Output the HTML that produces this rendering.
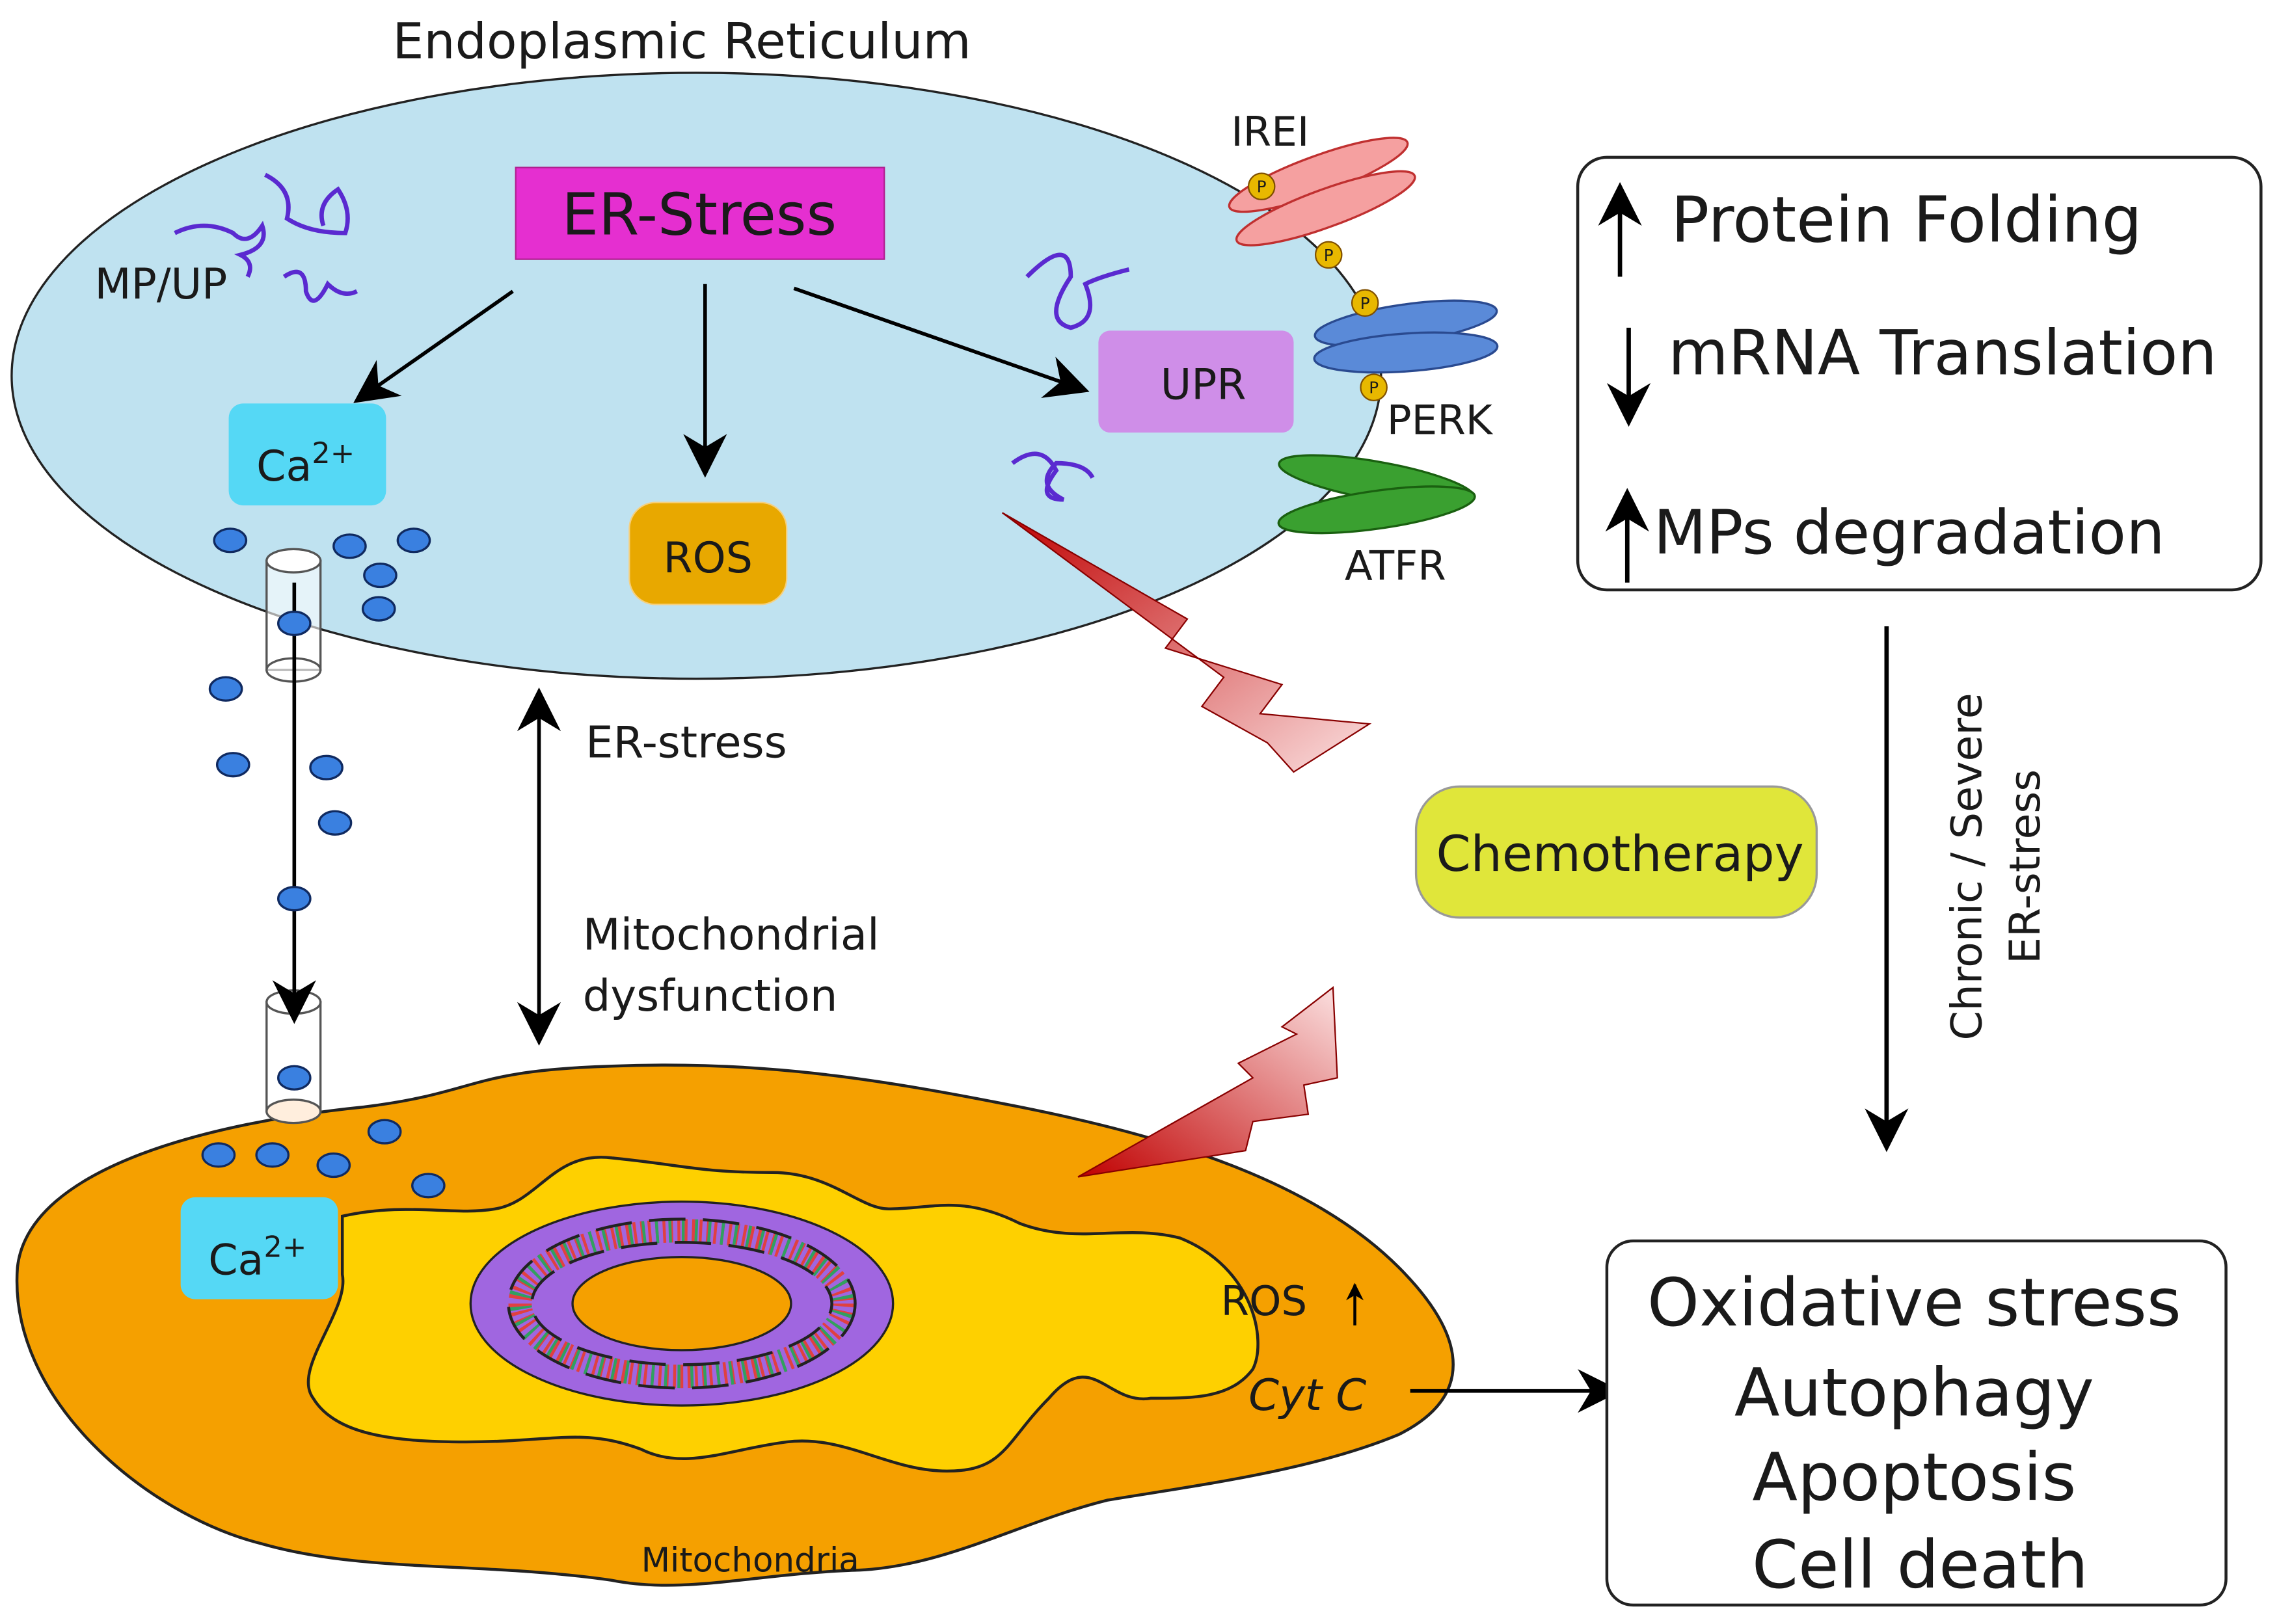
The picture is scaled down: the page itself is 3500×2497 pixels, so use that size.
<!DOCTYPE html>
<html><head><meta charset="utf-8"><style>html,body{margin:0;padding:0;background:#fff}svg{display:block}text{font-family:"DejaVu Sans","Liberation Sans",sans-serif;fill:#1a1a1a}</style></head>
<body>
<svg width="3500" height="2497" viewBox="0 0 1563 1115" preserveAspectRatio="none" xmlns="http://www.w3.org/2000/svg">
<defs>
<marker id="ah" viewBox="0 0 20 20" refX="18" refY="10" markerWidth="12" markerHeight="12" markerUnits="userSpaceOnUse" orient="auto"><path d="M0,0 L20,10 L0,20 L6,10 Z" fill="#000"/></marker>
<marker id="ahb" viewBox="0 0 20 20" refX="18" refY="10" markerWidth="30" markerHeight="30" markerUnits="userSpaceOnUse" orient="auto-start-reverse"><path d="M0,0 L20,10 L0,20 L6,10 Z" fill="#000"/></marker>
<linearGradient id="bolt" x1="0" y1="0" x2="1" y2="1"><stop offset="0" stop-color="#c00000"/><stop offset="1" stop-color="#fbe0e0"/></linearGradient>
<linearGradient id="bolt2" x1="0" y1="1" x2="1" y2="0"><stop offset="0" stop-color="#c00000"/><stop offset="1" stop-color="#fbe0e0"/></linearGradient>
</defs>
<text x="468" y="40" font-size="34" text-anchor="middle">Endoplasmic Reticulum</text>
<ellipse cx="478" cy="258" rx="470" ry="208" fill="#bfe2f0" stroke="#222" stroke-width="1.5"/>
<rect x="354" y="115" width="253" height="63" fill="#e52fd0" stroke="#b0208f"/>
<text x="480" y="161" font-size="40" text-anchor="middle">ER-Stress</text>
<text x="65" y="205" font-size="29">MP/UP</text>
<g fill="none" stroke="#5a2ad0" stroke-width="3">
<path d="M120,160 q20,-10 40,0 q10,10 20,-5 q5,15 -15,20 q10,5 5,15"/>
<path d="M182,120 q20,10 15,30 q15,10 40,10 q5,-15 -5,-30 q-15,10 -10,25"/>
<path d="M195,190 q15,-10 15,10 q5,15 15,-5 q10,10 20,5"/>
<path d="M705,190 q30,-30 30,0 q-20,30 0,35 q20,-5 10,-30 q10,-5 30,-10"/>
<path d="M695,318 q20,-15 30,5 q-15,20 5,20 q-20,-10 -5,-25 q20,0 25,10"/>
</g>
<rect x="157" y="277" width="108" height="70" rx="10" fill="#55d8f5"/>
<text x="176" y="330" font-size="29">Ca<tspan font-size="20" dy="-12">2+</tspan></text>
<rect x="432" y="345" width="108" height="70" rx="18" fill="#e8a800" stroke="#f5d080"/>
<text x="486" y="393" font-size="29" text-anchor="middle">ROS</text>
<rect x="754" y="227" width="134" height="70" rx="8" fill="#cf8ee8"/>
<text x="826" y="274" font-size="29" text-anchor="middle">UPR</text>
<g stroke="#000" stroke-width="2.5" marker-end="url(#ahb)">
<line x1="352" y1="200" x2="245" y2="275"/>
<line x1="484" y1="195" x2="484" y2="325"/>
<line x1="545" y1="198" x2="745" y2="268"/>
</g>
<g stroke-width="1.5">
<ellipse cx="905" cy="120" rx="65" ry="13" transform="rotate(-20 905 120)" fill="#f5a0a0" stroke="#c03030"/>
<ellipse cx="910" cy="143" rx="65" ry="13" transform="rotate(-20 910 143)" fill="#f5a0a0" stroke="#c03030"/>
<ellipse cx="965" cy="222" rx="63" ry="13" transform="rotate(-8 965 222)" fill="#5a8ad8" stroke="#2a4a90"/>
<ellipse cx="965" cy="242" rx="63" ry="13" transform="rotate(-4 965 242)" fill="#5a8ad8" stroke="#2a4a90"/>
<ellipse cx="945" cy="330" rx="68" ry="13" transform="rotate(10 945 330)" fill="#3aa030" stroke="#1a6010"/>
<ellipse cx="945" cy="350" rx="68" ry="13" transform="rotate(-8 945 350)" fill="#3aa030" stroke="#1a6010"/>
</g>
<g fill="#e8b800" stroke="#805000"><circle cx="866" cy="128" r="9"/><circle cx="912" cy="175" r="9"/><circle cx="937" cy="208" r="9"/><circle cx="943" cy="266" r="9"/></g>
<g font-size="11" text-anchor="middle"><text x="866" y="132">P</text><text x="912" y="179">P</text><text x="937" y="212">P</text><text x="943" y="270">P</text></g>
<text x="845" y="100" font-size="28">IREI</text>
<text x="952" y="298" font-size="28">PERK</text>
<text x="923" y="398" font-size="28">ATFR</text>
<path d="M688,352 L815,425 L800,445 L880,470 L865,490 L940,497 L888,530 L870,510 L825,485 L840,465 Z" fill="url(#bolt)" stroke="#800" stroke-width="1"/>
<path d="M12,870 C20,800 150,770 250,760 C330,750 320,735 420,732 C520,728 600,740 700,760 C800,780 900,810 960,870 C1010,920 1010,960 960,985 C900,1010 820,1020 760,1030 C700,1045 650,1075 590,1078 C520,1080 470,1095 420,1085 C330,1072 250,1080 180,1060 C100,1040 5,960 12,870 Z" fill="#f5a000" stroke="#222" stroke-width="2"/>
<path d="M235,835 C280,825 310,835 340,830 C370,825 380,790 420,795 C470,800 480,805 530,805 C570,805 590,830 610,830 C640,830 660,820 700,840 C740,855 770,840 810,850 C860,870 870,920 860,940 C845,960 820,960 790,960 C760,965 750,925 720,960 C690,990 690,1010 650,1010 C610,1010 580,985 540,990 C500,995 470,1010 440,995 C400,980 380,990 320,990 C270,990 230,985 215,960 C200,940 240,900 235,875 Z" fill="#fed000" stroke="#222" stroke-width="2"/>
<ellipse cx="468" cy="895" rx="145" ry="70" fill="#a066e0" stroke="#222" stroke-width="1.5"/>
<ellipse cx="468" cy="895" rx="111" ry="50" fill="none" stroke-width="16" stroke="#e04040" stroke-dasharray="2 3"/>
<ellipse cx="468" cy="895" rx="111" ry="50" fill="none" stroke-width="16" stroke="#30a060" stroke-dasharray="2 7" stroke-dashoffset="3"/>
<ellipse cx="468" cy="895" rx="119" ry="58" fill="none" stroke="#222" stroke-width="2" stroke-dasharray="25 12"/>
<ellipse cx="468" cy="895" rx="103" ry="42" fill="none" stroke="#222" stroke-width="2" stroke-dasharray="25 12" stroke-dashoffset="18"/>
<ellipse cx="468" cy="895" rx="75" ry="32" fill="#f5a000" stroke="#222" stroke-width="1.5"/>
<rect x="124" y="822" width="108" height="70" rx="10" fill="#55d8f5"/>
<text x="143" y="875" font-size="29">Ca<tspan font-size="20" dy="-12">2+</tspan></text>
<path d="M740,808 L860,740 L850,730 L890,710 L880,705 L915,678 L918,740 L895,745 L898,765 L860,770 L855,790 Z" fill="url(#bolt2)" stroke="#800" stroke-width="1"/>
<text x="838" y="903" font-size="28">ROS</text>
<line x1="930" y1="910" x2="930" y2="882" stroke="#000" stroke-width="2" marker-end="url(#ah)"/>
<text x="857" y="968" font-size="30" font-style="italic">Cyt C</text>
<line x1="968" y1="955" x2="1110" y2="955" stroke="#000" stroke-width="2.5" marker-end="url(#ahb)"/>
<text x="515" y="1079" font-size="23" text-anchor="middle">Mitochondria</text>
<g stroke="#555" stroke-width="1.5">
<rect x="183" y="385" width="37" height="75" fill="#fff" fill-opacity="0.6"/><ellipse cx="201.5" cy="385" rx="18.5" ry="8" fill="#fff"/><ellipse cx="201.5" cy="460" rx="18.5" ry="8" fill="#fff" fill-opacity="0.6"/>
<rect x="183" y="688" width="37" height="75" fill="#fff" fill-opacity="0.6"/><ellipse cx="201.5" cy="688" rx="18.5" ry="8" fill="#fff"/><ellipse cx="201.5" cy="763" rx="18.5" ry="8" fill="#fed"/>
</g>
<line x1="202" y1="400" x2="202" y2="700" stroke="#000" stroke-width="2.5" marker-end="url(#ahb)"/>
<g fill="#3a80e0" stroke="#102a60" stroke-width="1.5">
<ellipse cx="158" cy="371" rx="11" ry="8"/><ellipse cx="240" cy="375" rx="11" ry="8"/><ellipse cx="284" cy="371" rx="11" ry="8"/><ellipse cx="261" cy="395" rx="11" ry="8"/><ellipse cx="260" cy="418" rx="11" ry="8"/><ellipse cx="202" cy="428" rx="11" ry="8"/>
<ellipse cx="155" cy="473" rx="11" ry="8"/><ellipse cx="160" cy="525" rx="11" ry="8"/><ellipse cx="224" cy="527" rx="11" ry="8"/><ellipse cx="230" cy="565" rx="11" ry="8"/><ellipse cx="202" cy="617" rx="11" ry="8"/><ellipse cx="202" cy="740" rx="11" ry="8"/>
<ellipse cx="150" cy="793" rx="11" ry="8"/><ellipse cx="187" cy="793" rx="11" ry="8"/><ellipse cx="229" cy="800" rx="11" ry="8"/><ellipse cx="264" cy="777" rx="11" ry="8"/><ellipse cx="294" cy="814" rx="11" ry="8"/>
</g>
<line x1="370" y1="475" x2="370" y2="715" stroke="#000" stroke-width="2.5" marker-start="url(#ahb)" marker-end="url(#ahb)"/>
<text x="402" y="520" font-size="30">ER-stress</text>
<text x="400" y="652" font-size="30">Mitochondrial</text>
<text x="400" y="694" font-size="30">dysfunction</text>
<rect x="1083" y="108" width="469" height="297" rx="20" fill="#fff" stroke="#222" stroke-width="2"/>
<text x="1147" y="166" font-size="43.5">Protein Folding</text>
<text x="1145" y="257" font-size="42.5">mRNA Translation</text>
<text x="1135" y="380" font-size="42">MPs degradation</text>
<g stroke="#000" stroke-width="3" marker-end="url(#ahb)">
<line x1="1112" y1="190" x2="1112" y2="128"/>
<line x1="1118" y1="225" x2="1118" y2="290"/>
<line x1="1117" y1="400" x2="1117" y2="338"/>
<line x1="1295" y1="430" x2="1295" y2="788"/>
</g>
<text transform="translate(1360,595) rotate(-90)" font-size="29" text-anchor="middle">Chronic / Severe</text>
<text transform="translate(1400,595) rotate(-90)" font-size="29" text-anchor="middle">ER-stress</text>
<rect x="972" y="540" width="275" height="90" rx="30" fill="#e0e63a" stroke="#999" stroke-width="1.5"/>
<text x="1112" y="598" font-size="34" text-anchor="middle">Chemotherapy</text>
<rect x="1103" y="852" width="425" height="250" rx="18" fill="#fff" stroke="#222" stroke-width="2"/>
<g font-size="45.5" text-anchor="middle"><text x="1314" y="910">Oxidative stress</text><text x="1314" y="972">Autophagy</text><text x="1314" y="1030">Apoptosis</text><text x="1318" y="1090">Cell death</text></g>
</svg>
</body></html>
